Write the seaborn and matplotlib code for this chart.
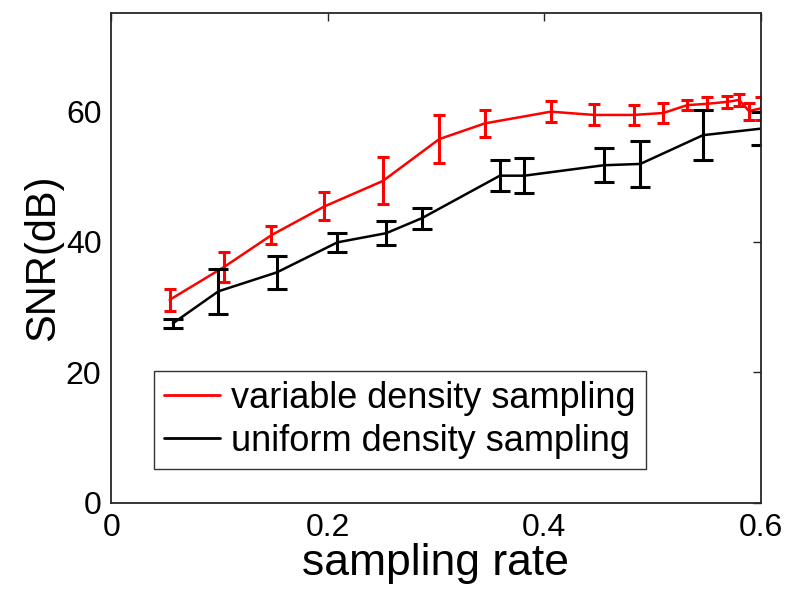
import matplotlib
matplotlib.use("Agg")
import matplotlib.pyplot as plt
import seaborn as sns
import pandas as pd

# Data
rate_vd = [0.054, 0.104, 0.148, 0.197, 0.251, 0.303, 0.345, 0.406, 0.446, 0.4825,
           0.510, 0.532, 0.550, 0.569, 0.580, 0.589, 0.600]
snr_vd = [31.1, 36.1, 41.0, 45.4, 49.3, 55.7, 58.1, 59.9, 59.4, 59.4,
          59.7, 60.9, 61.1, 61.4, 61.7, 60.0, 60.4]
err_vd = [1.7, 2.3, 1.4, 2.15, 3.6, 3.7, 2.1, 1.6, 1.6, 1.5,
          1.6, 0.8, 1.0, 0.9, 0.9, 1.3, 1.7]

rate_ud = [0.057, 0.099, 0.153, 0.209, 0.254, 0.287, 0.359, 0.3815, 0.455, 0.4887,
           0.5466, 0.600]
snr_ud = [27.5, 32.4, 35.3, 39.9, 41.3, 43.6, 50.1, 50.1, 51.7, 51.9, 56.3, 57.3]
err_ud = [0.7, 3.4, 2.5, 1.5, 1.8, 1.6, 2.35, 2.7, 2.6, 3.5, 3.8, 2.5]

labels = ["variable density sampling", "uniform density sampling"]
xticks = [0, 0.2, 0.4, 0.6]
xticklabels = ["0", "0.2", "0.4", "0.6"]
yticks = [0, 20, 40, 60]

sns.set_theme(style="white")
plt.rcParams["font.family"] = ["Liberation Sans", "DejaVu Sans"]
plt.rcParams["text.color"] = "black"
plt.rcParams["axes.labelcolor"] = "black"
plt.rcParams["legend.labelcolor"] = "black"

df = pd.concat([
    pd.DataFrame({"rate": rate_vd, "snr": snr_vd, "method": labels[0]}),
    pd.DataFrame({"rate": rate_ud, "snr": snr_ud, "method": labels[1]}),
])

fig = plt.figure(figsize=(8.0, 6.06), dpi=100)
ax = fig.add_axes([0.139, 0.170, 0.812, 0.8085])

sns.lineplot(data=df, x="rate", y="snr", hue="method", estimator=None, sort=False,
             palette={labels[0]: "#ff0000", labels[1]: "#000000"},
             linewidth=1.8, ax=ax)

ax.errorbar(rate_vd, snr_vd, yerr=err_vd, fmt="none", ecolor="#ff0000",
            elinewidth=2.2, capsize=4.5, capthick=2.2)
ax.errorbar(rate_ud, snr_ud, yerr=err_ud, fmt="none", ecolor="#000000",
            elinewidth=2.2, capsize=7.5, capthick=2.2)

ax.set_xlim(0, 0.6)
ax.set_ylim(0, 75)
ax.set_xticks(xticks)
ax.set_xticklabels(xticklabels)
ax.set_yticks(yticks)
ax.tick_params(axis="both", direction="in", length=6, width=1.0, labelsize=23,
               top=True, right=True, colors="#262626", labelcolor="black", pad=7)

for s in ax.spines.values():
    s.set_visible(True)
    s.set_color("#262626")
    s.set_linewidth(1.3)

ax.set_xlabel("sampling rate", fontsize=32, labelpad=0, color="black")
ax.set_ylabel("SNR(dB)", fontsize=30, labelpad=2, color="black")

leg = ax.legend(loc="lower left", bbox_to_anchor=(0.066, 0.069), borderaxespad=0,
                fontsize=26, frameon=True, fancybox=False, handlelength=1.55,
                handletextpad=0.3, borderpad=0.28, labelspacing=0.22)
leg.get_frame().set_edgecolor("black")
leg.get_frame().set_linewidth(1.0)
for t in leg.get_texts():
    t.set_color("black")
for h in leg.get_lines():
    h.set_linewidth(2.0)

fig.savefig("out.png", dpi=100)
